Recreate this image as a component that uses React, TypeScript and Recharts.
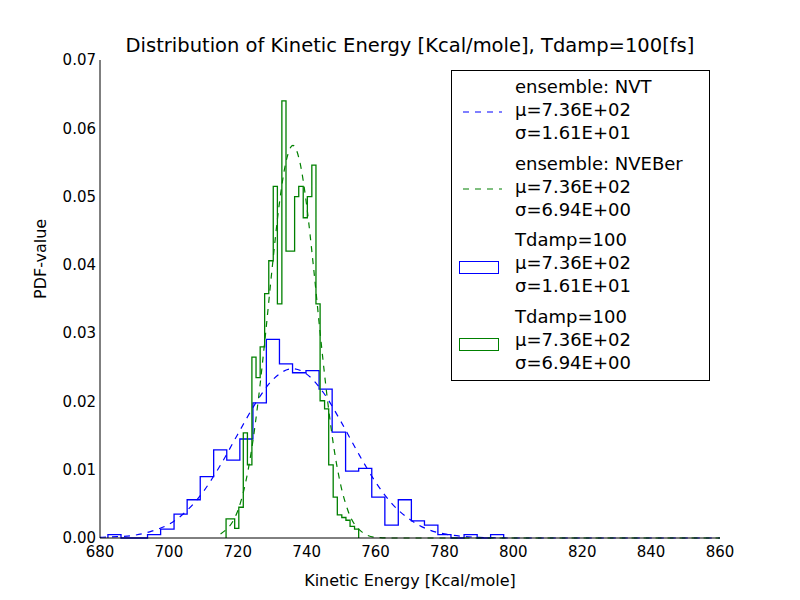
import React from 'react'
import { ComposedChart, Line, XAxis, YAxis } from 'recharts'

// histogram bins (left edges + heights)
const nvtEdges = [682.3, 686.1, 690.0, 693.8, 697.6, 701.5, 705.3, 709.1, 713.0, 716.8, 720.6, 724.4, 728.3, 732.1, 735.9, 739.8, 743.6, 747.4, 751.3, 755.1, 758.9, 762.7, 766.6, 770.4, 774.2, 778.1, 781.9, 785.7, 789.5, 793.4]
const nvtEnd = 797.2
const nvtHeights = [0.0005, 0, 0, 0.0005, 0.0013, 0.0035, 0.0056, 0.009, 0.0129, 0.0114, 0.0145, 0.0198, 0.0291, 0.0255, 0.0242, 0.0245, 0.0218, 0.0155, 0.0098, 0.0102, 0.006, 0.0019, 0.0056, 0.0025, 0.0019, 0.0005, 0, 0.0005, 0, 0.0005]

const nveEdges = [716.6, 717.8, 719.1, 720.3, 721.6, 722.8, 724.1, 725.3, 726.5, 727.8, 729.0, 730.3, 731.5, 732.8, 734.0, 735.2, 736.5, 737.7, 739.0, 740.2, 741.5, 742.7, 743.9, 745.2, 746.4, 747.7, 748.9, 750.2, 751.4, 752.6, 753.9]
const nveEnd = 755.1
const nveHeights = [0.0028, 0.0028, 0.0014, 0.0045, 0.0154, 0.0107, 0.0265, 0.0235, 0.028, 0.0358, 0.0406, 0.0515, 0.0343, 0.064, 0.042, 0.042, 0.05, 0.0515, 0.0469, 0.05, 0.0546, 0.0343, 0.0201, 0.0189, 0.0107, 0.006, 0.0034, 0.003, 0.0026, 0.0017, 0.0013]

// fitted curves, sampled
const nvtFitX = [680, 685, 690, 695, 700, 705, 710, 715, 720, 725, 730, 736, 740, 745, 750, 755, 760, 765, 770, 775, 780, 790, 800, 860]
const nvtFitY = [0.0001, 0.0002, 0.0004, 0.001, 0.002, 0.0039, 0.0068, 0.0107, 0.0152, 0.0196, 0.0231, 0.0248, 0.024, 0.0212, 0.017, 0.0124, 0.0082, 0.0049, 0.0027, 0.0013, 0.0006, 0.0001, 0, 0]
const nveFitX = [715, 720, 722, 724, 726, 728, 730, 732, 734, 736, 738, 740, 742, 744, 746, 748, 750, 752, 756, 760, 765, 860]
const nveFitY = [0.0006, 0.004, 0.0075, 0.0129, 0.0204, 0.0296, 0.0396, 0.0487, 0.0551, 0.0575, 0.0551, 0.0487, 0.0396, 0.0296, 0.0204, 0.0129, 0.0075, 0.004, 0.0009, 0.0001, 0, 0]

const xTicks = [680, 700, 720, 740, 760, 780, 800, 820, 840, 860]
const yTicks = [0, 0.01, 0.02, 0.03, 0.04, 0.05, 0.06, 0.07]

const BLUE = '#0000ff'
const GREEN = '#008000'
const FONT = 'DejaVu Sans'

const hist = (edges: number[], end: number, h: number[]) => [
  { x: edges[0], y: 0 },
  ...edges.map((e, i) => ({ x: e, y: h[i] })),
  { x: end, y: 0 },
]
const pts = (xs: number[], ys: number[]) => xs.map((x, i) => ({ x, y: ys[i] }))

const legendGroups = [
  { kind: 'dash', color: BLUE, lines: ['ensemble: NVT', 'μ=7.36E+02', 'σ=1.61E+01'] },
  { kind: 'dash', color: GREEN, lines: ['ensemble: NVEBer', 'μ=7.36E+02', 'σ=6.94E+00'] },
  { kind: 'patch', color: BLUE, lines: ['Tdamp=100', 'μ=7.36E+02', 'σ=1.61E+01'] },
  { kind: 'patch', color: GREEN, lines: ['Tdamp=100', 'μ=7.36E+02', 'σ=6.94E+00'] },
]

export default function App() {
  const tick = { fill: '#000', fontSize: 15, fontFamily: FONT }
  return (
    <div style={{ position: 'absolute', left: 0, top: 0, width: 800, height: 600, background: '#fff', fontFamily: FONT }}>
      <div style={{ position: 'absolute', top: 34, left: 0, width: 820, textAlign: 'center', fontSize: 19.5 }}>
        Distribution of Kinetic Energy [Kcal/mole], Tdamp=100[fs]
      </div>
      <ComposedChart width={800} height={600} margin={{ top: 60, right: 80, bottom: 0, left: 0 }}>
        <XAxis xAxisId="b" type="number" dataKey="x" domain={[680, 860]} ticks={xTicks} allowDataOverflow
          height={62} tick={tick} stroke="#000" tickSize={0} tickMargin={8}
          label={{ value: 'Kinetic Energy [Kcal/mole]', position: 'insideBottom', offset: 14, fill: '#000', fontSize: 16, fontFamily: FONT }} />
        <XAxis xAxisId="t" orientation="top" type="number" domain={[680, 860]} ticks={xTicks} height={0} tick={false} stroke="#000" />
        <YAxis yAxisId="l" type="number" domain={[0, 0.07]} ticks={yTicks} width={100} tick={tick} stroke="#000"
          tickFormatter={(v) => Number(v).toFixed(2)} tickSize={0} tickMargin={4}
          label={{ value: 'PDF-value', angle: -90, position: 'insideLeft', offset: 40, fill: '#000', fontSize: 16, fontFamily: FONT }} />
        <YAxis yAxisId="r" orientation="right" type="number" domain={[0, 0.07]} ticks={yTicks} width={0} tick={false} stroke="#000" />
        <Line xAxisId="b" yAxisId="l" data={hist(nvtEdges, nvtEnd, nvtHeights)} dataKey="y" type="stepAfter" stroke={BLUE} strokeWidth={1.3} dot={false} isAnimationActive={false} />
        <Line xAxisId="b" yAxisId="l" data={hist(nveEdges, nveEnd, nveHeights)} dataKey="y" type="stepAfter" stroke={GREEN} strokeWidth={1.3} dot={false} isAnimationActive={false} />
        <Line xAxisId="b" yAxisId="l" data={pts(nvtFitX, nvtFitY)} dataKey="y" type="monotone" stroke={BLUE} strokeDasharray="6 6" strokeWidth={1.2} dot={false} isAnimationActive={false} />
        <Line xAxisId="b" yAxisId="l" data={pts(nveFitX, nveFitY)} dataKey="y" type="monotone" stroke={GREEN} strokeDasharray="6 6" strokeWidth={1.2} dot={false} isAnimationActive={false} />
      </ComposedChart>
      <div style={{ position: 'absolute', left: 451, top: 70, width: 257, height: 309, border: '1px solid #000', background: '#fff' }}>
        {legendGroups.map((g, gi) => (
          <div key={gi} style={{ position: 'absolute', top: 5 + gi * 76.5, left: 0 }}>
            {g.kind === 'dash' ? (
              <svg style={{ position: 'absolute', left: 8, top: 32 }} width={42} height={8}>
                <line x1={0} y1={4} x2={42} y2={4} stroke={g.color} strokeWidth={1.2} strokeDasharray="6 6" strokeDashoffset={-3} />
              </svg>
            ) : (
              <div style={{ position: 'absolute', left: 7, top: 32, width: 38, height: 11, border: `1.3px solid ${g.color}` }} />
            )}
            {g.lines.map((t, i) => (
              <div key={i} style={{ position: 'absolute', left: 63, top: i * 23, fontSize: 18, whiteSpace: 'nowrap', lineHeight: '22px' }}>{t}</div>
            ))}
          </div>
        ))}
      </div>
    </div>
  )
}
